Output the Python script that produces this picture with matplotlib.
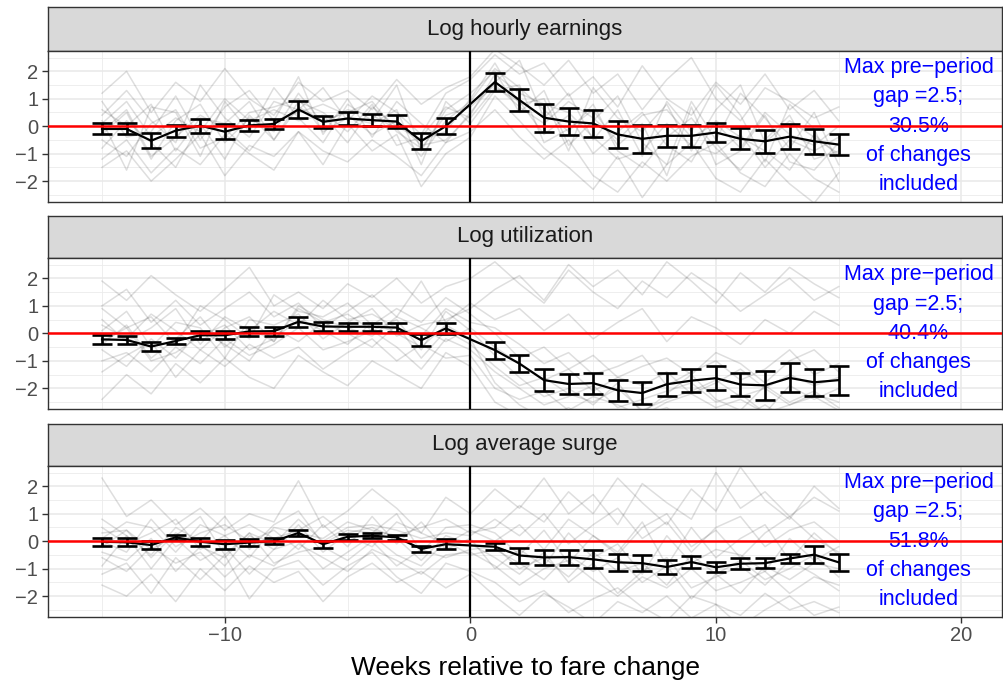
import matplotlib
matplotlib.use("Agg")
import matplotlib.pyplot as plt
import numpy as np

plt.rcParams['font.family'] = ['Liberation Sans', 'DejaVu Sans']

# weeks relative to the fare change
weeks_all = list(range(-15, 16))
weeks_est = [w for w in weeks_all if w != 0]

panel_titles = ['Log hourly earnings', 'Log utilization', 'Log average surge']
pct_included = ['30.5%', '40.4%', '51.8%']

# event-study estimates (mean and half-width of the bars), week 0 omitted
earn_mean = [-0.1, -0.1, -0.53, -0.16, 0.02, -0.2, 0.03, 0.08, 0.61, 0.16,
             0.28, 0.22, 0.17, -0.54, 0.0,
             1.61, 0.95, 0.31, 0.17, 0.1, -0.3, -0.46, -0.35, -0.35, -0.23,
             -0.46, -0.55, -0.38, -0.55, -0.67]
earn_ci = [0.2, 0.2, 0.27, 0.22, 0.26, 0.28, 0.21, 0.17, 0.3, 0.22,
           0.24, 0.21, 0.22, 0.3, 0.29,
           0.31, 0.4, 0.51, 0.5, 0.48, 0.49, 0.5, 0.39, 0.39, 0.33,
           0.38, 0.41, 0.46, 0.46, 0.38]

util_mean = [-0.22, -0.24, -0.48, -0.28, -0.07, -0.07, 0.07, 0.08, 0.42, 0.25,
             0.24, 0.24, 0.21, -0.25, 0.18,
             -0.61, -1.1, -1.7, -1.84, -1.81, -2.07, -2.17, -1.85, -1.72, -1.63,
             -1.86, -1.89, -1.62, -1.78, -1.7]
util_ci = [0.15, 0.16, 0.16, 0.12, 0.15, 0.15, 0.17, 0.16, 0.18, 0.17,
           0.15, 0.15, 0.16, 0.21, 0.21,
           0.31, 0.31, 0.39, 0.38, 0.38, 0.39, 0.41, 0.42, 0.42, 0.43,
           0.41, 0.53, 0.53, 0.48, 0.53]

surge_mean = [-0.02, -0.04, -0.14, 0.14, -0.02, -0.11, -0.05, 0.0, 0.3, -0.11,
              0.16, 0.2, 0.14, -0.28, -0.11,
              -0.2, -0.52, -0.59, -0.58, -0.66, -0.77, -0.8, -0.94, -0.76, -0.95,
              -0.82, -0.8, -0.63, -0.49, -0.77]
surge_ci = [0.14, 0.14, 0.14, 0.1, 0.14, 0.17, 0.13, 0.12, 0.12, 0.13,
            0.1, 0.1, 0.1, 0.12, 0.19,
            0.12, 0.27, 0.28, 0.27, 0.33, 0.32, 0.29, 0.27, 0.23, 0.19,
            0.19, 0.19, 0.18, 0.32, 0.32]

# individual fare changes (rough traces, weeks -15..15)
earn_paths = [
    [-0.3, 0.5, -1.2, 0.2, 0.8, -0.6, 0.3, -0.2, 1.2, 0.1, 0.6, 0.4, -0.1, -1.1, 0.2, 0.9, 2.1, 1.4, 0.6, -0.2, 0.8, -0.9, -1.5, -0.4, 0.3, -0.8, -1.6, -0.5, 0.4, -1.2, -0.9],
    [0.9, -0.4, -0.2, 1.1, -0.5, 0.7, 1.3, 0.2, 1.8, -0.3, 1.0, -0.4, 0.9, 0.1, -0.6, 0.5, 1.6, 2.4, 0.3, 1.2, -0.5, 0.6, -1.1, 0.9, -0.2, 1.5, 0.4, -1.3, 0.8, -0.1, -2.0],
    [-1.5, -0.9, -2.0, -1.2, -0.3, -1.8, -0.7, -1.1, -0.2, -1.4, 0.1, -0.9, -0.3, -2.2, -1.0, -0.4, 1.1, 0.2, -0.8, -1.5, -2.3, -1.1, -2.6, -1.4, -0.6, -1.9, -2.4, -1.2, -2.1, -2.8, -1.7],
    [0.4, 1.3, 0.2, -0.6, 1.5, 0.3, -0.4, 0.9, 0.6, 1.4, 0.2, 1.1, 0.5, -0.3, 1.2, 1.7, 2.6, 1.9, 2.3, 1.1, 1.8, 0.7, 2.2, 1.0, 0.4, 1.6, 0.8, 1.9, 0.6, 1.3, 0.2],
    [-0.8, 0.2, -0.6, -1.5, 0.1, -1.2, 0.4, -0.5, 0.9, 0.5, -0.2, 0.8, -0.7, -0.4, 0.7, 0.3, 1.4, 0.9, -0.3, 0.4, -1.0, -0.2, 0.5, -0.7, -1.3, 0.2, -0.4, -0.9, -1.6, -0.3, -1.1],
    [0.2, -1.6, 0.7, 0.5, -1.1, 0.9, -0.2, 1.4, 0.3, -0.6, 0.8, 0.2, 1.5, -0.9, 0.6, 1.2, 2.0, 0.5, 1.3, -0.7, 0.2, 1.1, -0.6, -1.4, 0.9, -0.5, 1.2, 0.3, -0.8, 0.5, -1.4],
    [-0.2, 0.6, -1.1, -0.4, 0.4, -0.1, -0.9, 0.2, 0.5, 0.8, 0.4, -0.3, 0.2, -0.7, -0.5, 0.4, 1.9, 1.2, 0.8, 0.5, -0.4, -1.2, -0.9, 0.1, -0.7, -1.0, -0.3, -1.5, -0.5, -0.9, -0.4],
    [1.2, 2.0, 0.5, 1.6, 0.9, 2.1, 1.0, 0.4, 1.6, 0.9, 1.3, 0.6, 1.7, 0.8, 1.4, 1.8, 2.8, 2.2, 1.5, 2.4, 1.2, 1.9, 0.6, 1.7, 2.5, 1.0, 0.2, 1.4, 0.9, 0.3, 0.7],
    [-1.2, -0.5, -1.7, -0.8, -1.4, -0.3, -1.0, -1.6, -0.2, -0.9, -1.3, -0.5, -1.1, -1.8, -0.6, -0.2, 0.6, -0.4, -1.2, -0.5, -1.8, -2.4, -1.3, -2.0, -1.1, -0.6, -1.7, -2.2, -1.0, -1.9, -2.4],
    [0.6, 0.0, 0.8, -0.9, 0.3, 0.1, 0.9, -0.5, 0.7, 0.2, 0.5, 0.9, -0.2, -0.8, 0.4, 0.7, 1.5, 0.7, 0.1, 0.9, 0.3, -0.5, 0.4, 0.6, -0.4, 0.1, -0.8, 0.5, -0.3, -0.7, 0.0],
    [-0.5, -1.1, 0.1, 0.6, -0.8, -0.4, 0.5, 0.7, 1.0, -0.2, 0.3, 0.1, 0.6, -1.4, 0.9, 0.1, 1.3, 1.5, -0.6, -0.1, 0.6, -0.7, 0.1, -1.8, 0.7, -1.4, -0.9, 0.4, -1.3, -1.6, -0.6],
    [0.1, 0.9, -0.4, 0.3, -0.2, 1.0, 0.2, 0.6, 0.2, 0.4, -0.6, 0.7, 0.0, -0.5, -0.2, 1.0, 2.3, 0.8, 1.0, -0.9, 1.4, 0.3, -0.2, 0.8, -0.9, 0.6, 1.5, -0.6, 0.2, -0.4, -1.0],
]

util_paths = [
    [-0.4, 0.3, -0.9, -0.2, 0.6, -0.5, 0.2, -0.3, 0.9, 0.4, 0.7, 0.1, 0.5, -0.6, 0.8, 0.1, -0.8, -1.6, -2.3, -2.0, -2.6, -1.8, -2.9, -2.2, -1.5, -2.4, -2.8, -1.9, -2.5, -2.1, -2.7],
    [1.9, 1.2, 2.1, 1.4, 0.8, 1.6, 2.4, 1.0, 1.5, 0.9, 1.8, 1.3, 2.0, 1.1, 1.7, 2.0, 2.6, 1.8, 1.1, 2.3, 1.5, 0.9, 1.9, 1.3, 2.2, 1.6, 0.8, 1.4, 2.0, 1.2, 1.7],
    [-2.4, -1.5, -2.2, -1.1, -1.8, -0.9, -1.6, -2.0, -0.8, -1.4, -1.9, -1.0, -1.5, -2.0, -0.7, -1.2, -2.5, -3.0, -2.8, -3.2, -2.9, -3.4, -3.0, -2.7, -3.3, -3.1, -2.9, -3.5, -3.0, -3.2, -2.8],
    [0.5, -0.3, 0.2, 0.9, -0.4, 0.6, 0.1, 0.8, 0.3, 1.2, 0.5, 0.7, 0.2, -0.1, 0.9, 0.4, 0.2, -0.4, -1.1, -0.7, -1.5, -1.2, -0.8, -1.9, -1.4, -1.0, -1.7, -1.3, -0.6, -1.5, -1.1],
    [-1.0, -0.7, -1.4, -0.5, -1.1, -0.2, -0.8, -0.4, 0.2, -0.6, -0.3, 0.1, -0.5, -1.3, -0.2, -0.6, -1.4, -2.0, -2.6, -2.3, -1.9, -2.7, -2.4, -2.1, -1.8, -2.5, -2.2, -2.9, -1.9, -2.4, -2.0],
    [0.1, 0.8, -0.5, 0.4, 0.2, -0.9, 0.5, 0.3, 0.7, -0.2, 0.4, 0.9, -0.1, 0.3, 0.5, 0.9, 1.6, 2.1, 1.2, 2.5, 1.7, 2.3, 1.4, 2.6, 1.9, 1.1, 2.2, 1.5, 2.4, 1.8, 1.3],
    [-0.6, -1.2, -0.2, -0.9, 0.1, -0.4, -1.0, 0.2, -0.3, 0.4, 0.0, -0.5, 0.3, -0.9, 0.1, -0.4, -1.2, -1.9, -1.6, -2.2, -2.5, -2.0, -2.8, -2.4, -2.1, -1.7, -2.3, -2.0, -2.6, -2.2, -2.5],
    [0.9, 0.2, 0.6, -0.4, 1.0, 0.5, -0.2, 1.4, 0.8, 0.6, 1.1, 0.3, 0.9, 0.4, 1.3, 0.7, 0.0, -0.9, -0.5, -1.3, -0.8, -1.6, -1.2, -0.9, -1.5, -0.7, -1.1, -1.8, -1.0, -0.6, -1.4],
    [-0.3, 0.2, -1.0, -0.7, -0.1, 0.3, -0.6, -0.2, 0.5, 0.1, -0.4, 0.4, 0.0, -0.5, 0.3, -0.2, -1.8, -2.6, -3.1, -2.7, -3.3, -2.9, -3.6, -3.0, -2.8, -3.4, -3.1, -2.6, -3.2, -2.9, -3.5],
    [1.0, 1.6, 0.4, 1.2, 0.3, 0.9, 1.5, 0.6, 1.1, 0.2, 0.8, 1.4, 0.6, 1.9, 0.4, 1.1, 0.5, 0.9, 0.1, 0.7, -0.2, 0.4, 0.9, -0.3, 0.6, 0.2, -0.4, 0.5, 0.0, 0.8, 0.3],
    [-1.4, -0.8, -0.3, -1.6, -0.6, -1.2, -0.4, -0.9, -0.5, -1.3, -0.7, -0.2, -1.0, -0.4, -0.9, -0.8, -2.0, -2.4, -2.1, -2.8, -2.3, -2.6, -3.0, -2.5, -2.2, -2.7, -2.4, -2.9, -2.6, -2.3, -2.8],
    [0.3, -0.2, 0.7, 0.1, -0.6, 0.2, 0.6, -0.3, 1.0, 0.5, 0.2, -0.1, 0.6, 0.2, -0.3, 0.2, -0.5, -1.1, -1.7, -1.3, -2.1, -1.6, -1.9, -1.4, -2.2, -1.8, -1.3, -2.0, -1.5, -1.9, -1.6],
]

surge_paths = [
    [-0.2, 0.4, -0.6, 0.3, -0.1, -0.9, 0.2, -0.3, 0.6, -0.4, 0.3, 0.5, 0.1, -0.7, 0.2, -0.1, -0.6, -1.2, -0.4, -1.5, -0.8, -1.9, -1.1, -0.6, -1.7, -1.3, -0.9, -1.6, -0.7, -1.2, -1.8],
    [2.3, 0.9, 1.5, 0.6, 1.2, 0.4, 1.0, 0.7, 2.2, 0.5, 1.1, 1.9, 1.2, 0.3, 1.6, 1.0, 1.9, 1.2, 2.3, 1.0, 1.7, 0.6, 2.1, 1.4, 0.8, 2.5, 1.2, 1.8, 0.9, 1.6, 1.1],
    [-1.2, -0.8, -1.9, -0.6, -1.4, -0.5, -2.1, -1.0, -0.7, -1.6, -0.9, -0.4, -1.3, -1.9, -0.8, -1.1, -1.5, -2.2, -1.8, -2.6, -2.1, -1.7, -2.4, -2.9, -2.0, -2.3, -2.7, -1.9, -2.5, -2.2, -2.6],
    [0.5, -0.1, 0.3, 0.8, -0.3, 0.2, 0.6, 0.1, 0.4, 0.9, 0.2, -0.2, 0.7, 0.3, -0.1, 0.4, 0.0, 0.6, -0.3, 0.8, 0.2, -0.5, 0.5, 1.0, -0.2, 0.4, -0.6, 0.3, 0.9, 0.1, -0.4],
    [-0.6, -1.1, -0.2, -0.8, -0.4, -1.3, -0.5, -0.9, -0.1, -0.6, -1.1, -0.3, -0.7, -1.2, -0.5, -0.4, -0.9, -1.6, -1.0, -0.7, -1.4, -2.0, -1.3, -1.7, -1.0, -1.8, -1.5, -1.1, -1.9, -1.3, -1.6],
    [0.1, 0.7, 0.5, -0.4, 0.6, 0.2, -0.6, 0.5, 0.3, 0.1, 0.7, 0.4, 0.2, 0.5, 0.8, 0.3, 0.5, 1.3, 0.7, 1.8, 1.0, 2.3, 1.4, 0.6, 1.9, 1.1, 2.7, 1.5, 0.8, 2.0, 1.2],
    [-0.9, 0.2, -1.0, 0.1, -0.7, -0.2, -1.2, -0.3, 0.0, -1.0, -0.4, 0.2, -0.5, -0.9, 0.0, -0.5, -0.3, -0.8, -1.4, -0.5, -1.1, -0.6, -1.5, -0.9, -2.1, -1.2, -0.7, -1.4, -1.0, -0.5, -1.3],
    [0.3, 0.4, -0.3, 0.2, 0.9, -0.5, 0.3, -0.1, 0.8, 0.0, 0.5, 0.6, 0.4, 0.1, 0.3, 0.2, 0.8, 0.2, 1.0, -0.1, 0.6, 1.2, 0.1, 0.7, -0.4, 0.5, 0.9, -0.2, 0.4, 0.7, 0.0],
    [-1.6, -2.0, -1.2, -2.2, -1.0, -1.8, -0.9, -1.5, -1.1, -2.2, -1.3, -0.8, -1.5, -1.1, -1.7, -1.2, -2.0, -2.7, -1.9, -2.4, -3.0, -2.2, -2.6, -2.0, -2.8, -2.3, -3.1, -2.5, -2.0, -2.7, -2.4],
    [0.0, -0.4, 0.8, -0.2, 0.3, 0.6, 0.0, 0.4, -0.3, 0.6, -0.2, 0.9, -0.1, 0.7, -0.3, 0.1, -1.0, -0.3, -0.9, 0.3, -0.6, -0.1, -1.2, 0.2, -0.8, -0.3, -0.5, -1.1, 0.1, -0.7, -0.2],
    [-0.4, -0.7, 0.1, -1.1, -0.2, -0.6, 0.3, -0.8, -0.4, -0.2, -0.7, 0.0, -0.9, -0.3, -0.6, -0.3, -0.2, -1.0, -0.6, -1.3, -0.4, -1.1, -0.8, -1.6, -0.5, -1.2, -1.9, -0.9, -1.4, -0.8, -1.0],
    [0.8, 0.2, -0.5, 0.5, 0.0, 0.9, -0.3, 0.6, 1.1, -0.1, 0.4, 0.3, 1.0, -0.4, 0.5, 0.6, 0.3, -0.5, 0.4, -0.8, 0.2, -0.4, 0.7, -0.9, 0.5, -0.6, 0.1, 0.6, -0.7, 0.3, -0.5],
]

means = [earn_mean, util_mean, surge_mean]
cis = [earn_ci, util_ci, surge_ci]
paths = [earn_paths, util_paths, surge_paths]

W, H = 1004, 685
fig = plt.figure(figsize=(W / 100, H / 100), dpi=100)


def px_axes(x0, y0, x1, y1):
    return fig.add_axes([x0 / W, 1 - y1 / H, (x1 - x0) / W, (y1 - y0) / H])


# pixel rows: (strip top, panel top, panel bottom)
rows = [(7.3, 50.7, 201.7), (216, 257.7, 409), (424, 465.7, 616.7)]
left, right = 48, 1002
edge = '#333333'

for i, (s_top, p_top, p_bot) in enumerate(rows):
    # facet strip
    strip = px_axes(left, s_top, right, p_top)
    strip.set_facecolor('#D9D9D9')
    strip.set_xticks([])
    strip.set_yticks([])
    for sp in strip.spines.values():
        sp.set_color(edge)
        sp.set_linewidth(1.0)
    strip.text(0.5, 0.5, panel_titles[i], transform=strip.transAxes,
               ha='center', va='center', fontsize=16, color='#1A1A1A')

    ax = px_axes(left, p_top, right, p_bot)
    ax.set_xlim(-17.2, 21.65)
    ax.set_ylim(-2.75, 2.75)
    ax.set_xticks([-10, 0, 10, 20])
    ax.set_xticks([-15, -5, 5, 15], minor=True)
    ax.set_yticks([-2, -1, 0, 1, 2])
    ax.set_yticks(np.arange(-2.5, 2.6, 1.0), minor=True)
    ax.grid(which='major', color='#E8E8E8', lw=1.1)
    ax.grid(which='minor', color='#EBEBEB', lw=0.6)
    ax.set_axisbelow(True)
    for sp in ax.spines.values():
        sp.set_color(edge)
        sp.set_linewidth(1.0)
    ax.tick_params(which='minor', length=0)
    ax.tick_params(axis='y', which='major', length=4.5, width=1.0, color=edge,
                   labelcolor='#4D4D4D', labelsize=14.5, pad=2.5)
    if i == 2:
        ax.tick_params(axis='x', which='major', length=4.5, width=1.0,
                       color=edge, labelcolor='#4D4D4D', labelsize=14.5, pad=2.5)
    else:
        ax.tick_params(axis='x', which='major', length=0, labelbottom=False)

    for path in paths[i]:
        ax.plot(weeks_all, path, color='black', alpha=0.13, lw=1.1, zorder=2)

    ax.errorbar(weeks_est, means[i], yerr=cis[i], fmt='none', ecolor='black',
                elinewidth=1.9, capsize=7.2, capthick=1.9, zorder=3)
    ax.plot(weeks_est, means[i], color='black', lw=1.6, zorder=3)

    ax.text(18.25, 0.0,
            'Max pre\u2212period\ngap =2.5;\n' + pct_included[i] + '\nof changes\nincluded',
            color='blue', ha='center', va='center', fontsize=15.5,
            linespacing=1.52, zorder=4)

    ax.axvline(0, color='black', lw=1.6, zorder=5)
    ax.axhline(0, color='red', lw=1.8, zorder=6)

fig.text(526 / W, 1 - 668 / H, 'Weeks relative to fare change',
         ha='center', va='center', fontsize=19, color='black')

fig.savefig('out.png', dpi=100)
